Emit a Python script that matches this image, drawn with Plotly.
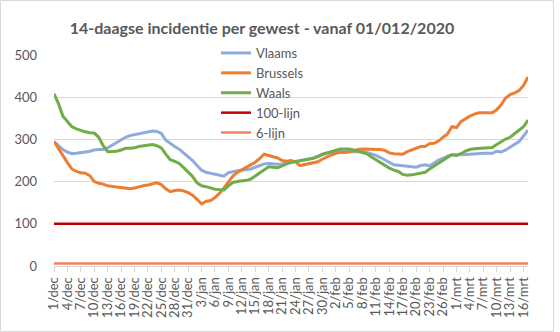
import plotly.graph_objects as go
import pandas as pd

months_nl = {12: "dec", 1: "jan", 2: "feb", 3: "mrt"}
dates = [f"{d.day}/{months_nl[d.month]}" for d in pd.date_range("2020-12-01", "2021-03-17")]

vlaams = [295, 285, 276, 270, 266, 267, 268, 270, 272, 275, 276, 276, 280, 286, 292, 300, 305, 309, 311, 314,
          316, 318, 320, 319, 314, 298, 290, 283, 277, 268, 260, 250, 238, 227, 222, 220, 218, 216, 213, 221,
          224, 226, 227, 228, 230, 234, 238, 242, 243, 242, 241, 242, 244, 246, 247, 249, 251, 253, 256, 260,
          264, 267, 269, 272, 273, 272, 272, 271, 271, 271, 269, 266, 262, 257, 251, 244, 240, 239, 238, 237,
          235, 234, 238, 240, 237, 245, 251, 255, 260, 263, 263, 263, 264, 265, 266, 267, 267, 267, 267, 272,
          270, 275, 281, 288, 295, 308, 322]
brussels = [295, 278, 260, 245, 230, 224, 221, 220, 214, 200, 196, 194, 190, 188, 187, 186, 184, 183, 185, 188,
            190, 192, 195, 197, 193, 183, 176, 179, 180, 178, 174, 168, 158, 147, 153, 155, 162, 172, 185, 200,
            213, 222, 228, 232, 238, 246, 255, 265, 262, 259, 256, 250, 248, 250, 247, 238, 240, 242, 244, 247,
            253, 259, 263, 267, 269, 269, 270, 273, 276, 277, 277, 277, 277, 276, 274, 268, 266, 265, 265, 271,
            275, 279, 283, 283, 290, 291, 296, 305, 313, 330, 328, 342, 349, 355, 360, 363, 363, 363, 363, 370,
            382, 398, 406, 410, 416, 428, 448]
waals = [408, 385, 355, 343, 330, 325, 321, 318, 316, 315, 305, 285, 271, 271, 272, 275, 279, 279, 280, 283,
         285, 287, 288, 285, 280, 265, 252, 248, 243, 233, 222, 212, 197, 190, 188, 185, 182, 181, 180, 190,
         198, 200, 201, 203, 206, 213, 222, 229, 235, 234, 233, 237, 242, 245, 247, 250, 251, 253, 255, 259,
         265, 268, 271, 275, 277, 277, 277, 275, 272, 269, 266, 258, 251, 245, 237, 232, 227, 224, 217, 215,
         216, 218, 220, 222, 230, 237, 243, 250, 259, 264, 262, 266, 272, 276, 278, 279, 280, 281, 281, 288,
         295, 301, 305, 313, 320, 330, 346]
lijn100 = [100] * len(dates)
lijn6 = [6] * len(dates)

series = [
    ("Vlaams", vlaams, "#8FAADC", 3),
    ("Brussels", brussels, "#ED7D31", 3),
    ("Waals", waals, "#70AD47", 3),
    ("100-lijn", lijn100, "#C00000", 2.5),
    ("6-lijn", lijn6, "#F08262", 2.5),
]

fig = go.Figure()
for name, vals, color, w in series:
    fig.add_trace(go.Scatter(x=dates, y=vals, name=name, mode="lines",
                             line=dict(color=color, width=w)))

W, H = 560, 332
L, R, T, B = 54, 32, 55, 66
pw, ph = W - L - R, H - T - B

def px2paper_x(px):
    return (px - L) / pw

def px2paper_y(py):
    return (H - B - py) / ph

fig.update_layout(
    width=W, height=H,
    margin=dict(l=L, r=R, t=T, b=B),
    paper_bgcolor="white", plot_bgcolor="white",
    font=dict(family="Lato", color="#595959", size=13),
    title=dict(text="<b>14-daagse incidentie per gewest - vanaf 01/012/2020</b>",
               x=262 / W, xanchor="center", y=1 - 28 / H, yanchor="middle",
               font=dict(family="Lato", size=16, color="#595959")),
    showlegend=True,
    legend=dict(x=px2paper_x(216), xanchor="left", y=px2paper_y(148), yanchor="bottom",
                bgcolor="rgba(0,0,0,0)", font=dict(family="Lato", size=13, color="#595959"),
                traceorder="normal"),
    xaxis=dict(type="category", range=[0, len(dates) - 1],
               tickvals=dates[::3], ticktext=dates[::3], tickangle=-90,
               showgrid=False, showline=True, linecolor="#D9D9D9", linewidth=1,
               ticks="outside", ticklen=5, tickcolor="#D9D9D9",
               tickfont=dict(family="Lato", size=13, color="#595959")),
    yaxis=dict(range=[0, 500], dtick=100, showgrid=True, gridcolor="#D9D9D9", gridwidth=1,
               zeroline=False, showline=False, ticks="", ticklabelstandoff=16,
               tickfont=dict(family="Lato", size=13, color="#595959")),
    shapes=[dict(type="rect", xref="paper", yref="paper",
                 x0=px2paper_x(0.5), x1=px2paper_x(553.5), y0=px2paper_y(331.5), y1=px2paper_y(0.5),
                 line=dict(color="#D9D9D9", width=1), layer="below")],
)

fig.write_html("out.html")
